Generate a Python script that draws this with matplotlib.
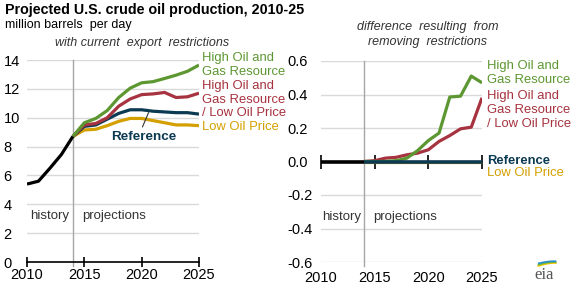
import matplotlib
matplotlib.use("Agg")
import matplotlib.pyplot as plt
import numpy as np

plt.rcParams['font.family'] = ['Liberation Sans', 'DejaVu Sans']

hist_years = [2010, 2011, 2012, 2013, 2014]
hist_vals = [5.4, 5.6, 6.5, 7.45, 8.7]

proj_years = [2014, 2015, 2016, 2017, 2018, 2019, 2020, 2021, 2022, 2023, 2024, 2025]
reference = [8.7, 9.4, 9.5, 9.9, 10.3, 10.55, 10.55, 10.45, 10.4, 10.35, 10.35, 10.25]
high_res = [8.7, 9.65, 9.95, 10.5, 11.4, 12.05, 12.42, 12.5, 12.72, 12.95, 13.22, 13.65]
high_res_low_price = [8.7, 9.5, 9.6, 10.0, 10.8, 11.3, 11.6, 11.65, 11.75, 11.4, 11.45, 11.7]
low_price = [8.7, 9.15, 9.2, 9.45, 9.75, 9.95, 9.95, 9.8, 9.65, 9.5, 9.5, 9.45]

hist_diff = [0, 0, 0, 0, 0]
diff_reference = [0, 0, 0, 0, 0, 0, 0, 0, 0, 0, 0, 0]
diff_low_price = [0, 0, 0, 0, 0, 0, 0, 0, 0, 0, 0, 0]
diff_high_res = [0, 0, 0, 0.005, 0.02, 0.065, 0.125, 0.17, 0.385, 0.39, 0.51, 0.47]
diff_high_res_low_price = [0, 0.005, 0.02, 0.025, 0.04, 0.05, 0.07, 0.12, 0.155, 0.195, 0.205, 0.38]

GREEN = '#5d9732'
RED = '#a6333f'
BLUE = '#0c3a53'
GOLD = '#d4a000'
BLACK = '#000000'
GRID = '#d9d9d9'
TXT = '#333333'
LW = 2.3

W, H = 571, 286
fig = plt.figure(figsize=(W / 100, H / 100), dpi=100)

def fx(px):
    return px / W

def fy(py):
    return 1 - py / H

axL = fig.add_axes([fx(27), fy(262), fx(199) - fx(27), fy(60) - fy(262)])
axR = fig.add_axes([fx(321), fy(262), fx(482) - fx(321), fy(61) - fy(262)])

# ---- left panel ----
axL.set_xlim(2010, 2025)
axL.set_ylim(0, 14)
axL.set_yticks(np.arange(0, 15, 2))
axL.set_xticks([2010, 2015, 2020, 2025])
for y in range(2, 15, 2):
    axL.axhline(y, color=GRID, lw=1, zorder=1)
for s in ['top', 'right', 'left']:
    axL.spines[s].set_visible(False)
axL.spines['bottom'].set_color(BLACK)
axL.spines['bottom'].set_linewidth(1.2)
axL.tick_params(axis='x', direction='inout', length=7, width=1.2, color=BLACK,
                labelsize=10.5, pad=1, labelcolor=BLACK)
axL.tick_params(axis='y', length=0, labelsize=10.5, pad=17, labelcolor=BLACK)
for t in axL.get_yticklabels():
    t.set_horizontalalignment('left')
axL.axvline(2014, ymin=-0.02, ymax=1, color='#a6a6a6', lw=1, clip_on=False, zorder=2)

axL.plot(proj_years, low_price, color=GOLD, lw=LW, zorder=3, solid_capstyle='butt')
axL.plot(proj_years, reference, color=BLUE, lw=LW, zorder=4, solid_capstyle='butt')
axL.plot(proj_years, high_res_low_price, color=RED, lw=LW, zorder=5, solid_capstyle='butt')
axL.plot(proj_years, high_res, color=GREEN, lw=LW, zorder=6, solid_capstyle='butt')
axL.plot(hist_years, hist_vals, color=BLACK, lw=LW, zorder=7, solid_capstyle='butt')

axL.annotate('Reference', xy=(2020.6, 10.35), xytext=(2020.2, 8.66),
             color=BLUE, fontsize=9.7, fontweight='bold', ha='center', va='center',
             arrowprops=dict(arrowstyle='-', color='#333333', lw=0.8,
                             relpos=(0.45, 1.0), shrinkA=1, shrinkB=0))
axL.text(2010.26, 3.2, 'history', color=TXT, fontsize=9.5, va='center', ha='left')
axL.text(2014.8, 3.2, 'projections', color=TXT, fontsize=9.5, va='center', ha='left')

# ---- right panel ----
axR.set_xlim(2010, 2025)
axR.set_ylim(-0.6, 0.6)
axR.set_yticks([-0.6, -0.4, -0.2, 0.0, 0.2, 0.4, 0.6])
axR.set_yticklabels(['-0.6', '-0.4', '-0.2', '0.0', '0.2', '0.4', '0.6'])
axR.set_xticks([2010, 2015, 2020, 2025])
for y in [-0.6, -0.4, -0.2, 0.2, 0.4, 0.6]:
    axR.axhline(y, color=GRID, lw=1, zorder=1)
for s in ['top', 'right', 'left']:
    axR.spines[s].set_visible(False)
axR.spines['bottom'].set_position(('data', 0))
axR.spines['bottom'].set_visible(False)
axR.tick_params(axis='x', direction='inout', length=10, width=1.2, color=BLACK,
                labelsize=10.5, pad=74, labelcolor=BLACK)
axR.tick_params(axis='y', length=0, labelsize=10.5, pad=24, labelcolor=BLACK)
for t in axR.get_yticklabels():
    t.set_horizontalalignment('left')
axR.axvline(2014, ymin=-0.02, ymax=1, color='#a6a6a6', lw=1, clip_on=False, zorder=2)

axR.plot(proj_years, diff_low_price, color=GOLD, lw=LW, zorder=3, solid_capstyle='butt')
axR.plot(proj_years, diff_high_res_low_price, color=RED, lw=LW, zorder=5, solid_capstyle='butt')
axR.plot(proj_years, diff_high_res, color=GREEN, lw=LW, zorder=6, solid_capstyle='butt')
axR.plot(proj_years, diff_reference, color=BLUE, lw=LW + 0.3, zorder=7, solid_capstyle='butt')
axR.plot(hist_years, hist_diff, color=BLACK, lw=LW + 0.3, zorder=7, solid_capstyle='butt')
axR.text(2010.1, -0.33, 'history', color=TXT, fontsize=9.5, va='center', ha='left')
axR.text(2014.9, -0.33, 'projections', color=TXT, fontsize=9.5, va='center', ha='left')

# ---- titles ----
fig.text(fx(5), fy(10), 'Projected U.S. crude oil production, 2010-25', fontsize=10.3,
         fontweight='bold', color=BLACK, ha='left', va='center')
fig.text(fx(5), fy(25), 'million barrels  per day', fontsize=9, color=BLACK,
         ha='left', va='center')
fig.text(fx(142), fy(43), 'with current  export  restrictions', fontsize=9,
         style='italic', color=TXT, ha='center', va='center')
fig.text(fx(428), fy(27), 'difference  resulting  from', fontsize=9,
         style='italic', color=TXT, ha='center', va='center')
fig.text(fx(428), fy(42), 'removing  restrictions', fontsize=9,
         style='italic', color=TXT, ha='center', va='center')

# ---- legend labels ----
LFS = 9.4
def lab(x, y, s, c, bold=False):
    fig.text(fx(x), fy(y), s, fontsize=LFS, color=c, ha='left', va='center',
             fontweight='bold' if bold else 'normal')

lab(202, 58, 'High Oil and', GREEN)
lab(202, 72, 'Gas Resource', GREEN)
lab(202, 86, 'High Oil and', RED)
lab(202, 100, 'Gas Resource', RED)
lab(202, 113, '/ Low Oil Price', RED)
lab(202, 127, 'Low Oil Price', GOLD)

lab(487, 66, 'High Oil and', GREEN)
lab(487, 80, 'Gas Resource', GREEN)
lab(487, 96, 'High Oil and', RED)
lab(487, 110, 'Gas Resource', RED)
lab(487, 124, '/ Low Oil Price', RED)
lab(487, 161, 'Reference', BLUE, bold=True)
lab(487, 173, 'Low Oil Price', GOLD)

# ---- eia logo ----
fig.text(fx(544), fy(275), 'eia', fontsize=12, family='Liberation Serif',
         color='#555555', ha='center', va='center')
axLogo = fig.add_axes([fx(535), fy(268), fx(557) - fx(535), fy(258) - fy(268)])
axLogo.set_xlim(0, 1)
axLogo.set_ylim(0, 1)
axLogo.axis('off')
t = np.linspace(0.15, 0.95, 30)
for off, c in [(0.0, '#f2c500'), (0.25, '#6db33f'), (0.5, '#2a8fc9')]:
    axLogo.plot(t * (1 - 0.1 * off) + off * 0.05, 0.1 + off * 0.6 + 0.8 * np.sin(t * np.pi * 0.55) * (1 - off * 0.6) * 0.5,
                color=c, lw=1.2)

fig.savefig('out.png', dpi=100)
